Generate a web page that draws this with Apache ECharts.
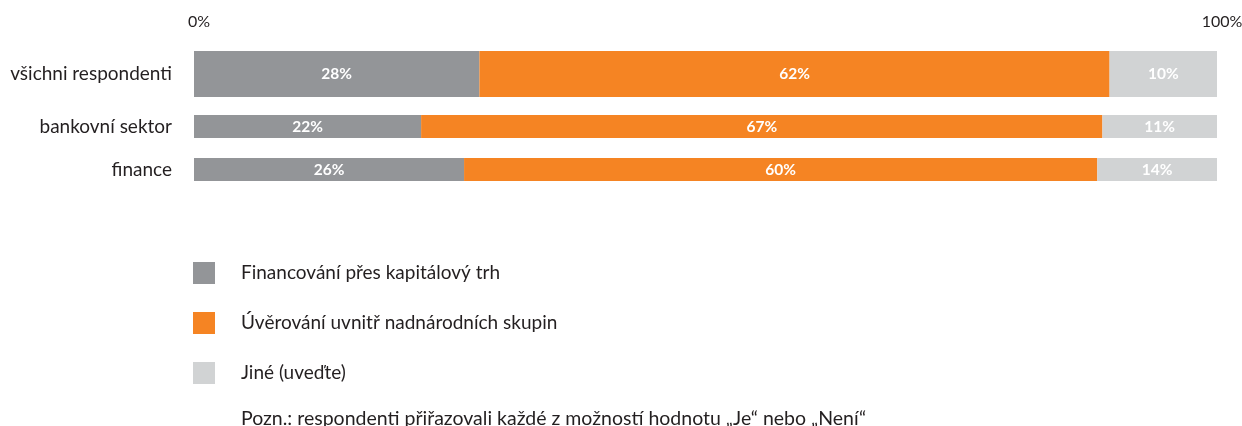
<!DOCTYPE html>
<html>
<head>
<meta charset="utf-8">
<script src="https://cdn.jsdelivr.net/npm/echarts@6/dist/echarts.min.js"></script>
<style>
  html, body { margin: 0; padding: 0; background: #fff; }
  #chart { width: 1242px; height: 426px; }
</style>
</head>
<body>
<div id="chart"></div>
<script>
// data
const categories = ['všichni respondenti', 'bankovní sektor', 'finance'];
const seriesNames = ['Financování přes kapitálový trh', 'Úvěrování uvnitř nadnárodních skupin', 'Jiné (uveďte)'];
// bar lengths as drawn (share of the bar, %)
const capital = [27.9, 22.2, 26.4];
const intragroup = [61.6, 66.6, 61.9];
const other = [10.5, 11.2, 11.7];
// labels as printed in the bars
const capitalLabels = ['28%', '22%', '26%'];
const intragroupLabels = ['62%', '67%', '60%'];
const otherLabels = ['10%', '11%', '14%'];
const axisTicks = ['0%', '100%'];
const note = 'Pozn.: respondenti přiřazovali každé z možností hodnotu „Je“ nebo „Není“';

const colors = ['#939598', '#F58423', '#D1D3D4'];
const font = 'Lato';

// each row is its own grid (rows differ in thickness and spacing)
const rows = [
    { top: 51, height: 46 },
    { top: 115, height: 23 },
    { top: 158, height: 23 }
];

const values = [capital, intragroup, other];
const labels = [capitalLabels, intragroupLabels, otherLabels];

let grid = [], xAxis = [], yAxis = [], series = [];
rows.forEach((r, i) => {
    grid.push({ left: 194, right: 25, top: r.top, height: r.height, outerBoundsMode: 'none' });
    xAxis.push({
        gridIndex: i,
        type: 'value',
        min: 0,
        max: 100,
        interval: 100,
        position: 'top',
        show: i === 0,
        axisLine: { show: false },
        axisTick: { show: false },
        splitLine: { show: false },
        axisLabel: {
            show: i === 0,
            margin: 21,
            fontFamily: font,
            fontSize: 16,
            color: '#231F20',
            padding: [0, 0, 0, 10],
            formatter: v => v === 0 ? axisTicks[0] : axisTicks[1]
        }
    });
    yAxis.push({
        gridIndex: i,
        type: 'category',
        data: [categories[i]],
        axisLine: { show: false },
        axisTick: { show: false },
        axisLabel: {
            margin: 22,
            fontFamily: font,
            fontSize: 19,
            color: '#231F20'
        }
    });
    values.forEach((vals, s) => {
        series.push({
            name: seriesNames[s],
            type: 'bar',
            xAxisIndex: i,
            yAxisIndex: i,
            stack: 'row' + i,
            barWidth: '100%',
            itemStyle: { color: colors[s] },
            label: {
                show: true,
                position: 'inside',
                color: '#fff',
                fontFamily: font,
                fontWeight: 'bold',
                fontSize: 15.5,
                formatter: () => labels[s][i]
            },
            emphasis: { disabled: true },
            data: [vals[i]]
        });
    });
});

const myChart = echarts.init(document.getElementById('chart'));
myChart.setOption({
    animation: false,
    grid: grid,
    xAxis: xAxis,
    yAxis: yAxis,
    legend: {
        orient: 'vertical',
        left: 193,
        top: 262,
        padding: 0,
        itemWidth: 22,
        itemHeight: 22,
        itemGap: 28,
        icon: 'rect',
        data: seriesNames,
        textStyle: {
            fontFamily: font,
            fontSize: 19,
            color: '#231F20',
            padding: [0, 0, 0, 21]
        }
    },
    graphic: [{
        type: 'text',
        x: 241,
        y: 419,
        style: {
            text: note,
            fontFamily: font,
            fontSize: 19.5,
            fill: '#231F20',
            verticalAlign: 'middle'
        }
    }],
    series: series
});
</script>
</body>
</html>
